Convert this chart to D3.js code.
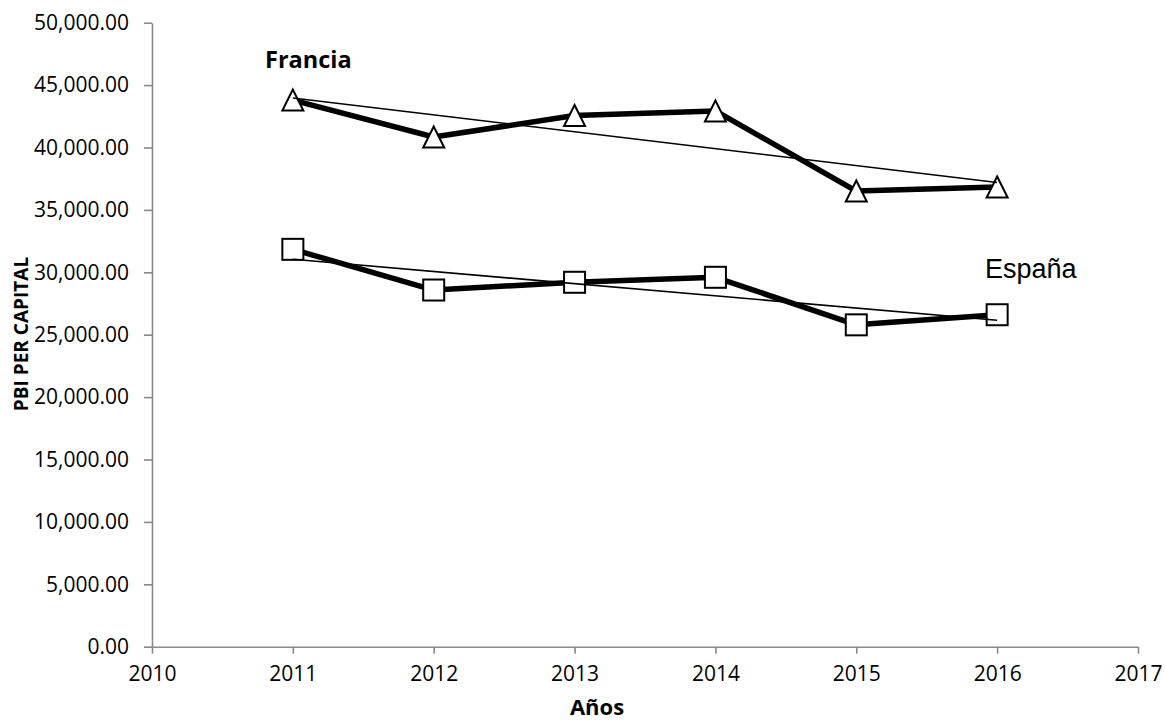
<!DOCTYPE html>
<html>
<head>
<meta charset="utf-8">
<script src="https://cdn.jsdelivr.net/npm/d3@7"></script>
<style>
  body { margin: 0; background: #fff; }
  svg { display: block; }
  .axis text { font-family: "Open Sans", sans-serif; font-size: 21px; fill: #000; }
  .axis path, .axis line { stroke: #898989; stroke-width: 1.6px; }
</style>
</head>
<body>
<div id="chart"></div>
<script>
var years = [2011, 2012, 2013, 2014, 2015, 2016];
var francia = [43800, 40840, 42560, 42930, 36510, 36840];
var espana = [31840, 28580, 29200, 29600, 25790, 26600];
var xTicks = [2010, 2011, 2012, 2013, 2014, 2015, 2016, 2017];
var yTicks = [0, 5000, 10000, 15000, 20000, 25000, 30000, 35000, 40000, 45000, 50000];

var svg = d3.select("#chart").append("svg").attr("width", 1165).attr("height", 723);

var x = d3.scaleLinear().domain([2010, 2017]).range([152, 1138]);
var y = d3.scaleLinear().domain([0, 50000]).range([646.7, 22.7]);

// axes
svg.append("g")
    .attr("class", "axis")
    .attr("transform", "translate(0," + y(0) + ")")
    .call(d3.axisBottom(x).tickValues(xTicks).tickFormat(d3.format("d")).tickSizeInner(7).tickSizeOuter(0).tickPadding(12));

svg.append("g")
    .attr("class", "axis")
    .attr("transform", "translate(" + x(2010) + ",0)")
    .call(d3.axisLeft(y).tickValues(yTicks).tickFormat(d3.format(",.2f")).tickSizeInner(8).tickSizeOuter(0).tickPadding(15));

// simple least squares trend, like the spreadsheet does
function trend(vals) {
  var mx = d3.mean(years), my = d3.mean(vals);
  var sxy = d3.sum(years, function(d, i) { return (d - mx) * (vals[i] - my); });
  var sxx = d3.sum(years, function(d) { return (d - mx) * (d - mx); });
  var b = sxy / sxx, a = my - b * mx;
  return [years[0], years[years.length - 1]].map(function(t) { return [t, a + b * t]; });
}

var line = d3.line()
    .x(function(d) { return x(d[0]); })
    .y(function(d) { return y(d[1]); });

var series = [
  { name: "Francia", vals: francia, marker: "triangle" },
  { name: "España", vals: espana, marker: "square" }
];

series.forEach(function(s) {
  var pts = years.map(function(yr, i) { return [yr, s.vals[i]]; });
  svg.append("path")
      .attr("d", line(pts))
      .attr("fill", "none")
      .attr("stroke", "#000")
      .attr("stroke-width", 5.5)
      .attr("stroke-linejoin", "round");
});

series.forEach(function(s) {
  var pts = years.map(function(yr, i) { return [yr, s.vals[i]]; });
  var g = svg.append("g");
  if (s.marker == "triangle") {
    g.selectAll("path.mk").data(pts).enter().append("path")
        .attr("class", "mk")
        .attr("d", function(d) {
          var cx = x(d[0]), cy = y(d[1]);
          return "M" + cx + "," + (cy - 10.5) + "L" + (cx + 10.5) + "," + (cy + 10.5) + "L" + (cx - 10.5) + "," + (cy + 10.5) + "Z";
        })
        .attr("fill", "#fff").attr("stroke", "#000").attr("stroke-width", 2);
  } else {
    g.selectAll("rect.mk").data(pts).enter().append("rect")
        .attr("class", "mk")
        .attr("x", function(d) { return x(d[0]) - 10.5; })
        .attr("y", function(d) { return y(d[1]) - 10.5; })
        .attr("width", 21).attr("height", 21)
        .attr("fill", "#fff").attr("stroke", "#000").attr("stroke-width", 2);
  }
});

series.forEach(function(s) {
  svg.append("path")
      .attr("d", line(trend(s.vals)))
      .attr("fill", "none")
      .attr("stroke", "#000")
      .attr("stroke-width", 1.6);
});

// labels
svg.append("text")
    .attr("x", 265).attr("y", 67.5)
    .style("font-family", "'Open Sans', sans-serif").style("font-weight", "bold").style("font-size", "23.5px")
    .text("Francia");

svg.append("text")
    .attr("x", 985).attr("y", 277.5)
    .style("font-family", "'Liberation Sans', Arial, sans-serif").style("font-size", "27px")
    .text("España");

svg.append("text")
    .attr("x", 597).attr("y", 715)
    .attr("text-anchor", "middle")
    .style("font-family", "'Open Sans', sans-serif").style("font-weight", "bold").style("font-size", "22px")
    .text("Años");

svg.append("text")
    .attr("transform", "translate(28,334) rotate(-90)")
    .attr("text-anchor", "middle")
    .style("font-family", "'Open Sans', sans-serif").style("font-weight", "bold").style("font-size", "19px")
    .text("PBI PER CAPITAL");
</script>
</body>
</html>
